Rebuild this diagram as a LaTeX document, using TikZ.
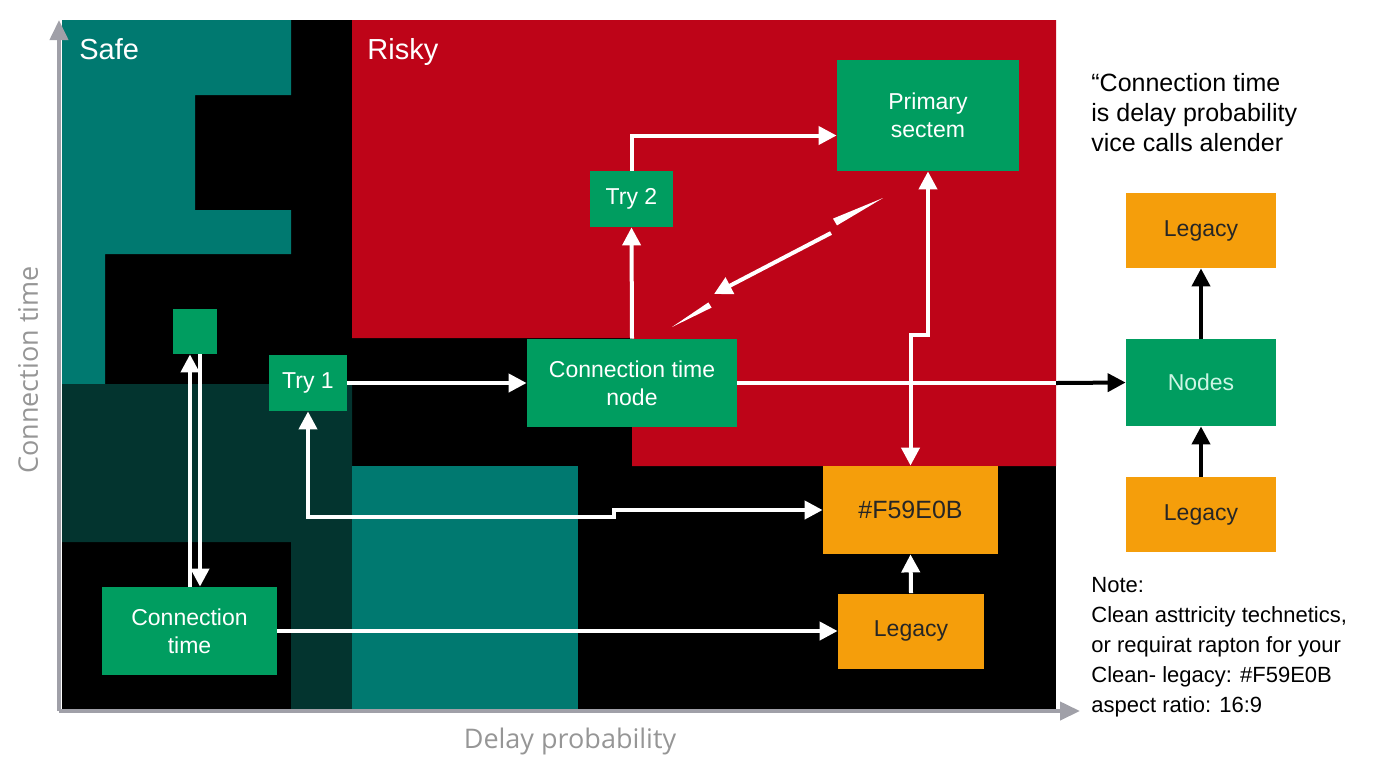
\documentclass[tikz,border=0pt]{standalone}
\usepackage{fontspec}
\setmainfont{Liberation Sans}
\newfontfamily\axisfont{Open Sans}
\usepackage{xcolor}
\usepackage{tikz}
\usetikzlibrary{arrows.meta}
\definecolor{safeteal}{RGB}{0,121,112}
\definecolor{darkteal}{RGB}{3,52,47}
\definecolor{riskred}{RGB}{190,4,24}
\definecolor{boxgreen}{RGB}{0,157,96}
\definecolor{legacyorange}{HTML}{F59E0B}
\definecolor{axisgray}{RGB}{160,160,168}
\definecolor{labelgray}{RGB}{150,150,150}
\tikzstyle{greenbox}=[rectangle,fill=boxgreen,text=white,inner sep=0pt,align=center,font=\fontsize{11.5}{14}\selectfont]
\tikzstyle{orangebox}=[rectangle,fill=legacyorange,text=black!85,inner sep=0pt,align=center,font=\fontsize{11.5}{14}\selectfont]
\tikzstyle{warrow}=[draw=white,line width=2pt,-{Triangle[length=9pt,width=9pt]}]
\tikzstyle{wboth}=[draw=white,line width=2pt,{Triangle[length=9pt,width=9pt]}-{Triangle[length=9pt,width=9pt]}]
\tikzstyle{barrow}=[draw=black,line width=2pt,-{Triangle[length=9pt,width=9pt]}]
\tikzstyle{axisline}=[draw=axisgray,line width=2pt,-{Triangle[length=10pt,width=9pt]}]

\begin{document}
\begin{tikzpicture}[x=0.5pt,y=-0.5pt]
        \useasboundingbox (0,0) rectangle (1376,768);

        \fill[black] (62,20) rectangle (1056,709);
        \fill[safeteal] (62,20) -- (291,20) -- (291,95) -- (195,95) -- (195,210) -- (291,210)
          -- (291,254) -- (105,254) -- (105,384) -- (62,384) -- cycle;
        \fill[riskred] (352,20) -- (1056,20) -- (1056,466) -- (632,466) -- (632,338) -- (352,338) -- cycle;
        \fill[darkteal] (62,384) -- (352,384) -- (352,709) -- (291,709) -- (291,542) -- (62,542) -- cycle;
        \fill[safeteal] (352,466) rectangle (578,709);
        \coordinate (pne) at (1056,20);

        \coordinate (orig) at (59,711);
        \draw[axisline] (orig) -- (59,20);
        \draw[axisline] (orig) -- (1080,711);

        \node at (79,59) [anchor=base west,inner sep=0pt,text=white,font=\fontsize{14.5}{17}\selectfont] (safe) {Safe};
        \node at (367,59) [anchor=base west,inner sep=0pt,text=white,font=\fontsize{14.5}{17}\selectfont] (risky) {Risky};
        \node at (570,741) [text=labelgray,font=\axisfont\fontsize{13.5}{16}\selectfont] (xlab) {Delay probability};
        \node at (28,370) [rotate=90,text=labelgray,font=\axisfont\fontsize{13.5}{16}\selectfont] (ylab) {Connection time};

        \node at (195,331.5) [greenbox,minimum width=22pt,minimum height=22.5pt] (sq) {};
        \node at (308,383) [greenbox,minimum width=39pt,minimum height=28pt] (try1) {Try 1};
        \node at (632,383) [greenbox,minimum width=105pt,minimum height=44pt] (ctnode) {Connection time\\node};
        \node at (631.5,199) [greenbox,minimum width=41.5pt,minimum height=28pt] (try2) {Try 2};
        \node at (928,115.5) [greenbox,minimum width=91pt,minimum height=55.5pt] (primary) {Primary\\sectem};
        \node at (189.5,631) [greenbox,minimum width=87.5pt,minimum height=44pt] (ctime) {Connection\\time};
        \node at (910.5,510) [orangebox,minimum width=87.5pt,minimum height=44pt,font=\fontsize{12.5}{14}\selectfont] (hexbox) {\#F59E0B};
        \node at (911,631) [orangebox,minimum width=73pt,minimum height=37.5pt] (legacy) {Legacy};
        \node at (1201,382.5) [greenbox,minimum width=75pt,minimum height=43.5pt,text={rgb,255:red,205;green,245;blue,228}] (nodes) {Nodes};
        \node at (1201,230.5) [orangebox,minimum width=75pt,minimum height=37.5pt] (legtop) {Legacy};
        \node at (1201,514.5) [orangebox,minimum width=75pt,minimum height=37.5pt] (legbot) {Legacy};

        \node at (1091,73) [anchor=north west,inner sep=0pt,align=left,font=\fontsize{12.5}{15}\selectfont] (quote)
          {“Connection time\\is delay probability\\vice calls alender};
        \node at (1091,577) [anchor=north west,inner sep=0pt,align=left,font=\fontsize{11}{15}\selectfont] (note)
          {Note:\\Clean asttricity technetics,\\or requirat rapton for your\\Clean- legacy: \#F59E0B\\aspect ratio: 16:9};

        \coordinate (dl) at ([xshift=-2.5pt]sq.south);
        \coordinate (dr) at ([xshift=2.5pt]sq.south);
        \draw[warrow] (dl |- ctime.north) -- (dl);
        \draw[warrow] (dr) -- (dr |- ctime.north);

        \draw[warrow] (try1) -- (ctnode);
        \draw[warrow] (ctnode.north) -- (try2.south);
        \draw[warrow] (try2.north) |- ([yshift=-10pt]primary.west);
        \draw[wboth] (primary.south) |- (hexbox.north |- 0,335) -- (hexbox.north);
        \draw[wboth] (try1.south) |- (614,517) -- (614,510) -- (hexbox.west);
        \draw[warrow] (ctime.east) -- (legacy.west);
        \draw[warrow] (legacy.north) -- (hexbox.south);
        \draw[draw=white,line width=2pt] (ctnode.east) -- (ctnode.east -| pne);
        \draw[barrow] (ctnode.east -| pne) -- (nodes.west);
        \draw[barrow] (legbot) -- (nodes);
        \draw[barrow] (nodes) -- (legtop);

        \coordinate (diag1) at (883,198);
        \coordinate (diag2) at (831,233);
        \coordinate (diag3) at (714,294);
        \coordinate (diag4) at (672,327);
        \fill[white] (diag1) -- (833,218.6) -- (837,225.4) -- cycle;
        \draw[warrow] (diag2) -- (diag3);
        \fill[white] (708.4,302.4) -- (711.6,307.6) -- (diag4) -- cycle;
      \end{tikzpicture}
\end{document}
